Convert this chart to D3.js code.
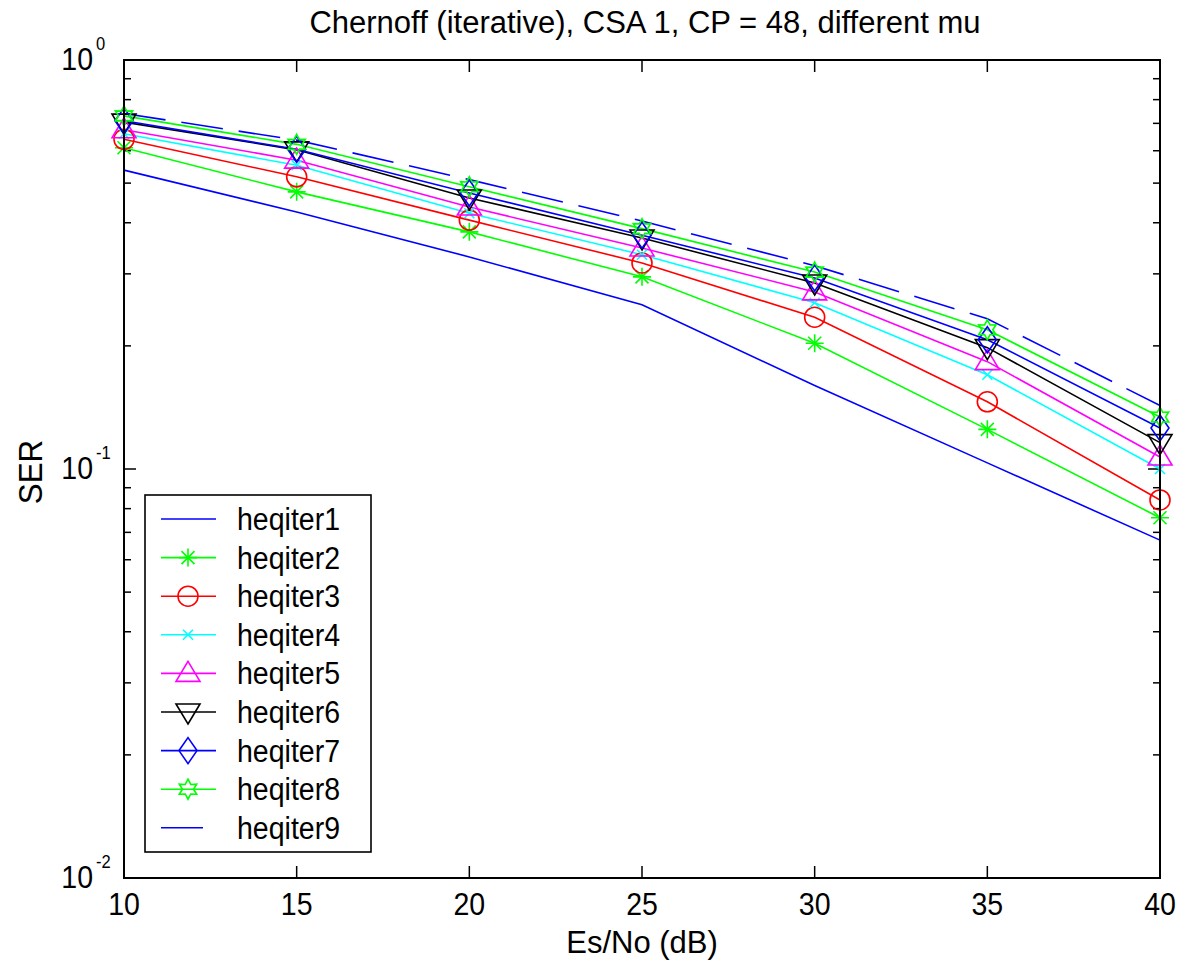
<!DOCTYPE html>
<html>
  <head>
    <meta charset="utf-8">
    <script src="https://d3js.org/d3.v7.min.js"></script>
    <title>Chernoff (iterative)</title>
    <style>
      body { margin: 0; background: #fff; }
      text { font-family: "Liberation Sans", Arial, sans-serif; fill: #000; }
    </style>
  </head>
  <body>
    <div id="plot"></div>
    <script>

    // data
    const snr = [10, 15, 20, 25, 30, 35, 40];
    const heqiter1 = [0.538, 0.425, 0.33, 0.252, 0.16, 0.1035, 0.067];
    const heqiter2 = [0.61, 0.476, 0.38, 0.295, 0.203, 0.125, 0.076];
    const heqiter3 = [0.64, 0.518, 0.406, 0.319, 0.235, 0.146, 0.084];
    const heqiter4 = [0.66, 0.553, 0.422, 0.334, 0.255, 0.17, 0.1];
    const heqiter5 = [0.675, 0.569, 0.437, 0.347, 0.271, 0.183, 0.107];
    const heqiter6 = [0.705, 0.603, 0.46, 0.367, 0.285, 0.198, 0.116];
    const heqiter7 = [0.71, 0.605, 0.473, 0.373, 0.293, 0.207, 0.126];
    const heqiter8 = [0.73, 0.622, 0.49, 0.387, 0.303, 0.219, 0.134];
    const heqiter9 = [0.74, 0.637, 0.51, 0.404, 0.314, 0.233, 0.143];

    const names = ["heqiter1", "heqiter2", "heqiter3", "heqiter4", "heqiter5",
                   "heqiter6", "heqiter7", "heqiter8", "heqiter9"];
    const xTicks = [10, 15, 20, 25, 30, 35, 40];
    const yMajor = [1, 0.1, 0.01];
    const yExp = ["0", "-1", "-2"];

    const series = [heqiter1, heqiter2, heqiter3, heqiter4, heqiter5,
                    heqiter6, heqiter7, heqiter8, heqiter9];
    const colors = ["#0000ff", "#00ff00", "#ff0000", "#00ffff", "#ff00ff",
                    "#000000", "#0000ff", "#00ff00", "#0000ff"];
    const markers = ["none", "star", "circle", "x", "up", "down", "diamond", "hex", "none"];

    // figure box
    const W = 1177, H = 962;
    const pLeft = 124, pRight = 1160, pTop = 60, pBottom = 878;

    const svg = d3.select("#plot")
      .append("svg")
        .attr("width", W)
        .attr("height", H);

    svg.append("rect").attr("width", W).attr("height", H).attr("fill", "#fff");

    const x = d3.scaleLinear().domain([10, 40]).range([pLeft, pRight]);
    const y = d3.scaleLog().domain([0.01, 1]).range([pBottom, pTop]);

    // text helper, the original font is a bit narrow
    function label(g, str, tx, ty, size, anchor, sx) {
      return g.append("text")
        .attr("transform", "translate(" + tx + "," + ty + ") scale(" + (sx || 0.92) + ",1)")
        .attr("text-anchor", anchor || "start")
        .style("font-size", size + "px")
        .text(str);
    }

    // ticks
    const axes = svg.append("g").attr("stroke", "#000").attr("stroke-width", 1.5);
    xTicks.slice(1, -1).forEach(function(t) {
      axes.append("line").attr("x1", x(t)).attr("x2", x(t)).attr("y1", pBottom).attr("y2", pBottom - 12);
      axes.append("line").attr("x1", x(t)).attr("x2", x(t)).attr("y1", pTop).attr("y2", pTop + 12);
    });
    const minor = [];
    [0.01, 0.1].forEach(function(d) {
      for (let k = 2; k <= 9; k++) minor.push(d * k);
    });
    minor.forEach(function(v) {
      axes.append("line").attr("x1", pLeft).attr("x2", pLeft + 7).attr("y1", y(v)).attr("y2", y(v));
      axes.append("line").attr("x1", pRight).attr("x2", pRight - 7).attr("y1", y(v)).attr("y2", y(v));
    });
    axes.append("line").attr("x1", pLeft).attr("x2", pLeft + 12).attr("y1", y(0.1)).attr("y2", y(0.1));
    axes.append("line").attr("x1", pRight).attr("x2", pRight - 12).attr("y1", y(0.1)).attr("y2", y(0.1));

    // tick labels
    const lab = svg.append("g");
    xTicks.forEach(function(t) {
      label(lab, String(t), x(t), 915, 31, "middle");
    });
    yMajor.forEach(function(v, i) {
      label(lab, "10", 93, y(v) + 10, 31, "end");
      label(lab, yExp[i], 96, y(v) - 10, 18, "start");
    });

    // lines
    const line = d3.line()
      .x(function(d, i) { return x(snr[i]); })
      .y(function(d) { return y(d); });

    const plot = svg.append("g");
    series.forEach(function(s, k) {
      plot.append("path")
        .datum(s)
        .attr("d", line)
        .attr("fill", "none")
        .attr("stroke", colors[k])
        .attr("stroke-width", 1.6)
        .attr("stroke-dasharray", k === 8 ? "42,16" : null);
    });

    // marker shapes
    function marker(g, type, cx, cy, color) {
      const m = g.append("g")
        .attr("transform", "translate(" + cx + "," + cy + ")")
        .attr("fill", "none")
        .attr("stroke", color)
        .attr("stroke-width", 1.6);
      if (type === "star") {
        m.append("path").attr("d", "M-9,0H9M0,-9V9M-6.5,-6.5L6.5,6.5M-6.5,6.5L6.5,-6.5");
      } else if (type === "circle") {
        m.append("circle").attr("r", 10);
      } else if (type === "x") {
        m.append("path").attr("d", "M-5,-5L5,5M-5,5L5,-5");
      } else if (type === "up") {
        m.append("path").attr("d", "M0,-12L12,8H-12Z");
      } else if (type === "down") {
        m.append("path").attr("d", "M0,12L12,-8H-12Z");
      } else if (type === "diamond") {
        m.append("path").attr("d", "M0,-13L9,0L0,13L-9,0Z");
      } else if (type === "hex") {
        const r = 10;
        const pts = [];
        for (let i = 0; i < 12; i++) {
          const a = -Math.PI / 2 + i * Math.PI / 6;
          const rr = i % 2 === 0 ? r : r * 0.55;
          pts.push([rr * Math.cos(a), rr * Math.sin(a)]);
        }
        m.append("path").attr("d", "M" + pts.join("L") + "Z");
      }
    }

    series.forEach(function(s, k) {
      if (markers[k] === "none") return;
      s.forEach(function(v, i) {
        marker(plot, markers[k], x(snr[i]), y(v), colors[k]);
      });
    });

    // axes box
    svg.append("rect")
      .attr("x", pLeft).attr("y", pTop)
      .attr("width", pRight - pLeft).attr("height", pBottom - pTop)
      .attr("fill", "none")
      .attr("stroke", "#000")
      .attr("stroke-width", 2);

    // legend
    const leg = svg.append("g");
    leg.append("rect")
      .attr("x", 145).attr("y", 495)
      .attr("width", 226).attr("height", 357)
      .attr("fill", "#fff")
      .attr("stroke", "#000")
      .attr("stroke-width", 1.6);
    names.forEach(function(n, k) {
      const ly = 519 + k * 38.6;
      leg.append("line")
        .attr("x1", 161).attr("x2", k === 8 ? 203 : 216)
        .attr("y1", ly).attr("y2", ly)
        .attr("stroke", colors[k])
        .attr("stroke-width", 1.6);
      if (markers[k] !== "none") marker(leg, markers[k], 188, ly, colors[k]);
      label(leg, n, 237, ly + 11, 31, "start");
    });

    // title and axis labels
    label(svg, "Chernoff (iterative), CSA 1, CP = 48, different mu", 645, 33, 31, "middle", 1);
    label(svg, "Es/No (dB)", 642, 953, 31, "middle", 1);
    svg.append("text")
      .attr("transform", "translate(42,472) rotate(-90) scale(0.95,1)")
      .attr("text-anchor", "middle")
      .style("font-size", "33px")
      .text("SER");

    </script>
  </body>
</html>
